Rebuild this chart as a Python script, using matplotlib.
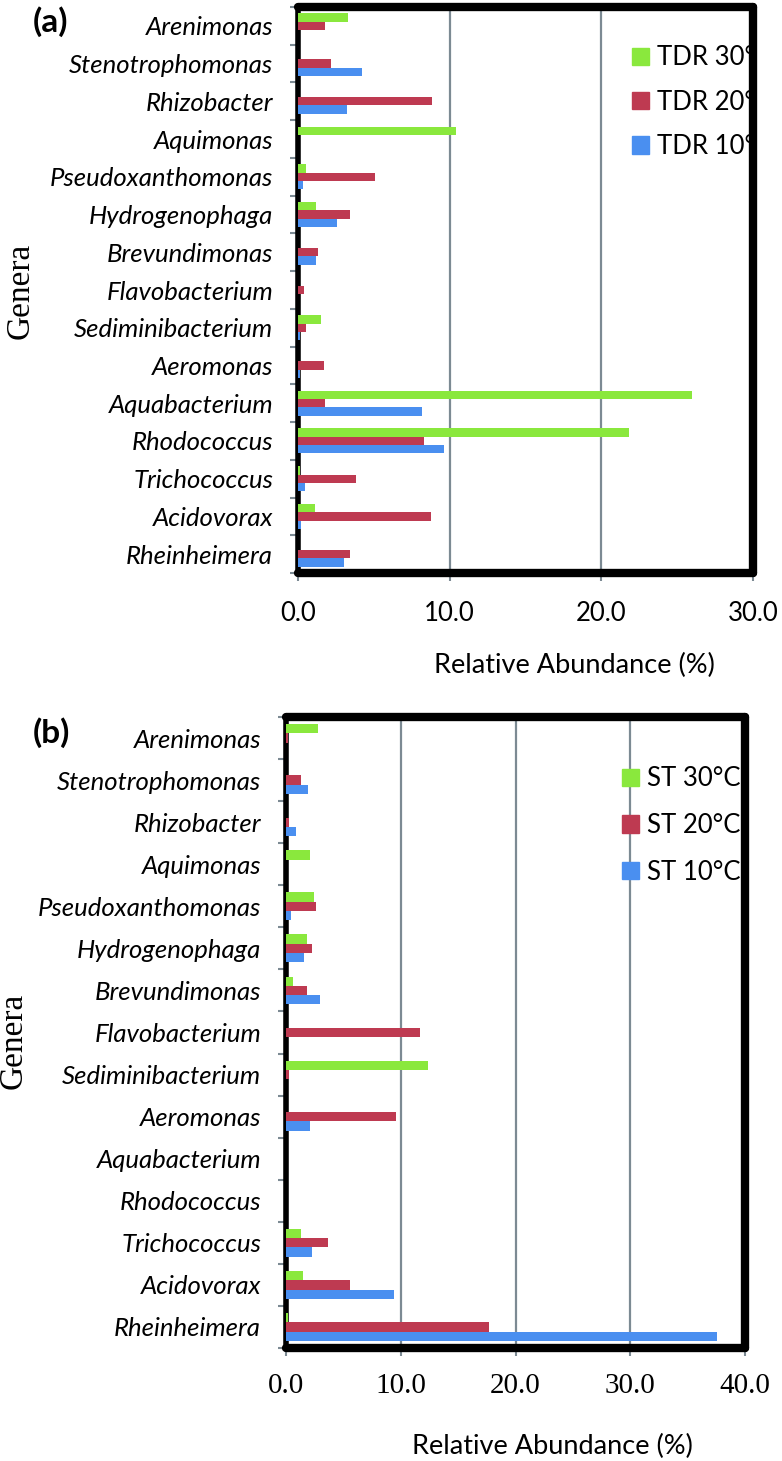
import matplotlib
matplotlib.use("Agg")
import matplotlib.pyplot as plt
from matplotlib.patches import Patch
import numpy as np

# genera (top to bottom)
genera = ["Arenimonas", "Stenotrophomonas", "Rhizobacter", "Aquimonas",
          "Pseudoxanthomonas", "Hydrogenophaga", "Brevundimonas", "Flavobacterium",
          "Sediminibacterium", "Aeromonas", "Aquabacterium", "Rhodococcus",
          "Trichococcus", "Acidovorax", "Rheinheimera"]

# (a) TDR
tdr_30 = [3.3, 0.0, 0.0, 10.4, 0.5, 1.2, 0.0, 0.0, 1.5, 0.0, 26.0, 21.8, 0.1, 1.15, 0.0]
tdr_20 = [1.8, 2.2, 8.85, 0.0, 5.1, 3.4, 1.35, 0.4, 0.5, 1.7, 1.75, 8.3, 3.8, 8.75, 3.4]
tdr_10 = [0.0, 4.2, 3.2, 0.0, 0.3, 2.55, 1.2, 0.0, 0.1, 0.15, 8.15, 9.65, 0.45, 0.2, 3.05]

# (b) ST
st_30 = [2.8, 0.0, 0.0, 2.1, 2.45, 1.8, 0.6, 0.0, 12.4, 0.0, 0.0, 0.0, 1.3, 1.45, 0.2]
st_20 = [0.2, 1.35, 0.3, 0.0, 2.65, 2.25, 1.85, 11.65, 0.25, 9.55, 0.0, 0.0, 3.65, 5.6, 17.7]
st_10 = [0.0, 1.9, 0.85, 0.0, 0.4, 1.55, 2.95, 0.0, 0.0, 2.1, 0.0, 0.0, 2.3, 9.4, 37.6]

green = "#8AE83D"
red = "#BE3A51"
blue = "#4A8FF0"
gridc = "#7C8A93"

sans = "Lato"
serif = "Liberation Serif"

fig = plt.figure(figsize=(7.82, 14.61), dpi=100)
W, H = 782, 1461


def panel(rect, s30, s20, s10, xmax, labels, tickfont, tag, tagpos, legpos, legsp,
          genpos, xlab):
    l, t, r, b = rect
    ax = fig.add_axes([l / W, 1 - b / H, (r - l) / W, (b - t) / H])
    y = np.arange(len(genera))
    h = 0.22
    ax.barh(y - h, s30, height=h, color=green, zorder=3)
    ax.barh(y, s20, height=h, color=red, zorder=3)
    ax.barh(y + h, s10, height=h, color=blue, zorder=3)
    ax.set_ylim(len(genera) - 0.5, -0.5)
    ax.set_xlim(0, xmax)
    ticks = np.arange(0, xmax + 1, 10)
    ax.set_xticks(ticks)
    ax.set_xticklabels([f"{v:.1f}" for v in ticks],
                       fontsize=tickfont[1], family=tickfont[0])
    ax.set_yticks(np.arange(len(genera) + 1) - 0.5, minor=True)
    ax.set_yticks(y)
    ax.set_yticklabels(genera, fontsize=18.5, family=sans, style="italic")
    ax.tick_params(axis="y", which="major", length=0, pad=18)
    ax.tick_params(axis="y", which="minor", length=6, width=1.5, color=gridc)
    ax.tick_params(axis="x", length=6, width=1.5, color=gridc, pad=tickfont[2])
    ax.grid(axis="x", color=gridc, linewidth=1.6, zorder=1)
    ax.set_axisbelow(True)
    for sp in ax.spines.values():
        sp.set_linewidth(6)
        sp.set_color("black")
        sp.set_capstyle("round")
    ax.spines["left"].set_linewidth(4)
    # axis titles
    fig.text(xlab[0] / W, 1 - xlab[1] / H, "Relative Abundance (%)", fontsize=19.5,
             family=sans, ha="center", va="center")
    fig.text(genpos[0] / W, 1 - genpos[1] / H, "Genera", fontsize=24, family=serif,
             rotation=90, ha="center", va="center")
    fig.text(tagpos[0] / W, 1 - tagpos[1] / H, tag, fontsize=24, fontweight="bold",
             family=sans, ha="left", va="center")
    handles = [Patch(color=green), Patch(color=red), Patch(color=blue)]
    names = [f"{labels} 30°C", f"{labels} 20°C", f"{labels} 10°C"]
    leg = ax.legend(handles, names, loc="upper left", bbox_to_anchor=legpos,
                    frameon=False, prop={"family": sans, "size": 18.5},
                    handlelength=0.65, handleheight=0.65, handletextpad=0.3,
                    labelspacing=legsp, borderpad=0, borderaxespad=0)
    leg.set_zorder(2)
    for txt in leg.get_texts():
        txt.set_clip_on(True)
        txt.set_clip_box(ax.bbox)
    return ax


panel((298, 7, 753, 573), tdr_30, tdr_20, tdr_10, 30, "TDR",
      (sans, 18.5, 14), "(a)", (33, 22), (0.735, 0.932), 0.75, (20, 291), (574, 665))
panel((286, 717, 745, 1348), st_30, st_20, st_10, 40, "ST",
      (serif, 21, 12), "(b)", (33, 733), (0.733, 0.922), 0.85, (13, 1041), (552, 1446))

fig.savefig("out.png", dpi=100)
